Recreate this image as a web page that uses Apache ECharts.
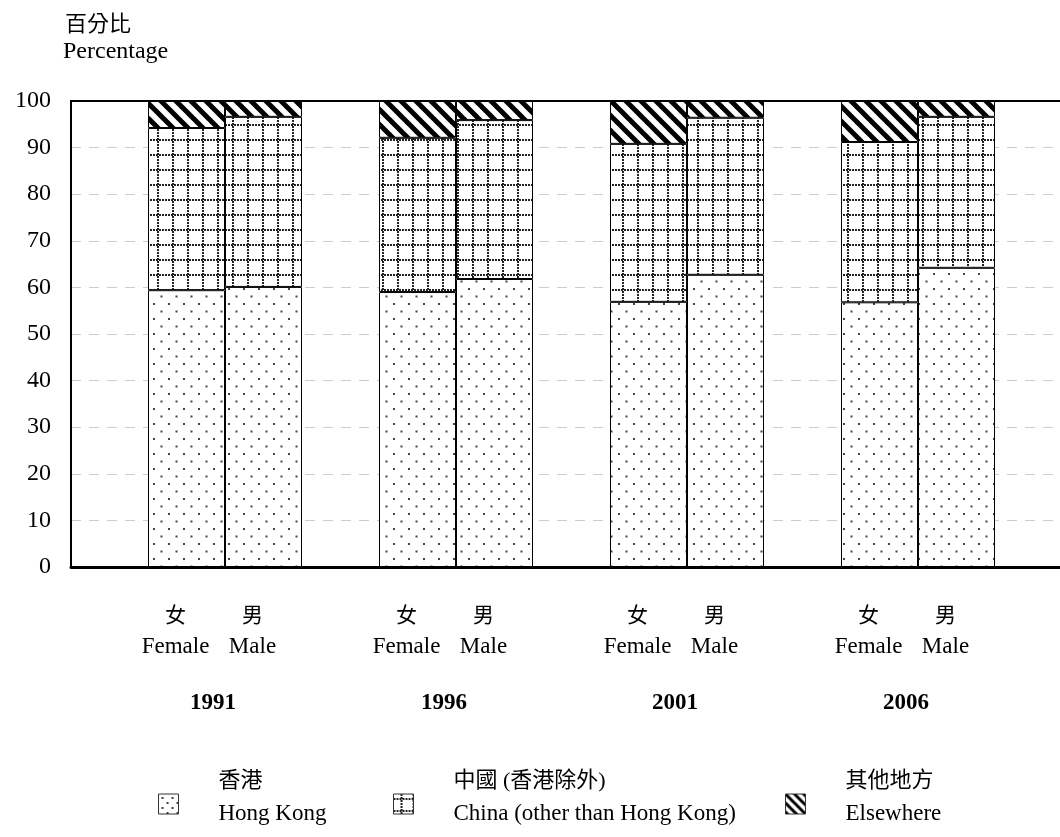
<!DOCTYPE html>
<html>
<head>
<meta charset="utf-8">
<script src="https://cdn.jsdelivr.net/npm/echarts@6/dist/echarts.min.js"></script>
<style>
  html, body { margin: 0; padding: 0; background: #fff; }
  #main { width: 1060px; height: 837px; }
</style>
</head>
<body>
<div id="main"></div>
<script>
// data (percent)
const years = ['1991', '1996', '2001', '2006']
const sexZh = ['女', '男']
const sexEn = ['Female', 'Male']
const hongKongF = [59.4, 59.0, 56.9, 56.8]
const hongKongM = [60.1, 61.8, 62.7, 64.2]
const chinaF = [34.8, 33.1, 33.9, 34.4]
const chinaM = [36.5, 34.1, 33.7, 32.4]
const elseF = [5.8, 7.9, 9.2, 8.8]
const elseM = [3.4, 4.1, 3.6, 3.4]
const seriesNames = ['香港\nHong Kong', '中國 (香港除外)\nChina (other than Hong Kong)', '其他地方\nElsewhere']

const SERIF = "'Liberation Serif', 'Noto Sans CJK TC'"
const CJK = "'Noto Sans CJK TC', 'Liberation Serif'"

// pattern tiles
function tile(size, draw) {
    const c = document.createElement('canvas')
    c.width = size
    c.height = size
    const ctx = c.getContext('2d')
    ctx.fillStyle = '#fff'
    ctx.fillRect(0, 0, size, size)
    draw(ctx, size)
    return { image: c, repeat: 'repeat' }
}
function dots(ctx, s) {
    ctx.fillStyle = '#444'
    ctx.fillRect(3, 3, 2, 2)
    ctx.fillRect(3 + s / 2, 3 + s / 2, 2, 2)
}
function gridDots(ctx, s) {
    ctx.fillStyle = '#222'
    for (let i = 0; i < s; i += 3) {
        ctx.fillRect(i, 4, 2, 2)
        ctx.fillRect(7, i, 2, 2)
    }
}
function stripes(ctx, s) {
    ctx.strokeStyle = '#000'
    ctx.lineWidth = s / 3
    for (const k of [-s, 0, s]) {
        ctx.beginPath()
        ctx.moveTo(k - 2, -2)
        ctx.lineTo(k + s + 2, s + 2)
        ctx.stroke()
    }
}
const fills = [tile(15, dots), tile(15, gridDots), tile(15, stripes)]
const legendFills = [tile(10, dots), tile(12, gridDots), tile(9, stripes)]

// 13 slots: gap, F, M, gap, F, M, ... gap
const categories = []
const labels = []
const slotOf = []   // [year][sex] -> slot index
years.forEach(function (y, i) {
    categories.push('gap' + i)
    labels.push('')
    slotOf.push([])
    sexEn.forEach(function (s, j) {
        slotOf[i].push(categories.length)
        categories.push(y + s)
        labels.push('{zh|' + sexZh[j] + '}\n{en|' + sexEn[j] + '}')
    })
})
categories.push('gapEnd')
labels.push('')

function spread(f, m) {
    const out = categories.map(function () { return '-' })
    years.forEach(function (y, i) {
        out[slotOf[i][0]] = f[i]
        out[slotOf[i][1]] = m[i]
    })
    return out
}

const values = [spread(hongKongF, hongKongM), spread(chinaF, chinaM), spread(elseF, elseM)]
const seriesData = values.map(function (v, i) {
    return {
        type: 'bar',
        name: seriesNames[i],
        stack: 'all',
        barCategoryGap: '0%',
        data: v,
        itemStyle: { color: fills[i], borderColor: '#000', borderWidth: 1 },
        emphasis: { disabled: true }
    }
})

const legendLeft = [158, 393, 785]
const legends = seriesNames.map(function (n, i) {
    return {
        left: legendLeft[i],
        top: 770,
        padding: 0,
        data: [{ name: n, itemStyle: { color: legendFills[i], borderColor: '#333', borderWidth: 1 } }],
        itemWidth: 20,
        itemHeight: 20,
        icon: 'rect',
        selectedMode: false,
        formatter: function (name) {
            const p = name.split('\n')
            return '{zh|' + p[0] + '}\n{en|' + p[1] + '}'
        },
        textStyle: {
            padding: [0, 0, 10, 35],
            rich: {
                zh: { fontFamily: SERIF, fontSize: 22, lineHeight: 30, color: '#000' },
                en: { fontFamily: SERIF, fontSize: 23, lineHeight: 36, color: '#000' }
            }
        }
    }
})

const cs = echarts.init(document.getElementById('main'))
const option = {
    animation: false,
    backgroundColor: '#fff',
    grid: {
        left: 71, top: 101, width: 1001, height: 466,
        outerBoundsMode: 'none',
        show: true, borderColor: '#000', borderWidth: 2
    },
    legend: legends,
    xAxis: {
        type: 'category',
        data: categories,
        axisLine: { show: true, lineStyle: { color: '#000', width: 3 } },
        axisTick: { show: false },
        axisLabel: {
            interval: 0,
            margin: 32,
            padding: [0, 22, 0, 0],
            formatter: function (v, idx) { return labels[idx] },
            rich: {
                zh: { fontFamily: CJK, fontSize: 21, lineHeight: 31, color: '#000' },
                en: { fontFamily: SERIF, fontSize: 23, lineHeight: 33, color: '#000' }
            }
        }
    },
    yAxis: {
        type: 'value',
        min: 0,
        max: 100,
        interval: 10,
        axisLine: { show: true, lineStyle: { color: '#000', width: 2 } },
        axisTick: { show: false },
        axisLabel: { fontFamily: SERIF, fontSize: 24, color: '#000', margin: 20 },
        splitLine: {
            show: true, showMinLine: false, showMaxLine: false,
            lineStyle: { color: '#ccc', type: [10, 8], width: 1 }
        }
    },
    series: seriesData
}
cs.setOption(option)

// titles and year labels
const graphics = [
    { type: 'text', left: 65, top: 12, style: { text: '百分比', fontFamily: CJK, fontSize: 22, fill: '#000' } },
    { type: 'text', left: 63, top: 40, style: { text: 'Percentage', fontFamily: SERIF, fontSize: 24, fill: '#000' } }
]
years.forEach(function (y, i) {
    const xF = cs.convertToPixel({ xAxisIndex: 0 }, slotOf[i][0])
    const xM = cs.convertToPixel({ xAxisIndex: 0 }, slotOf[i][1])
    graphics.push({
        type: 'text',
        x: (xF + xM) / 2 - 12,
        y: 703,
        style: {
            text: y, fontFamily: SERIF, fontSize: 23, fontWeight: 'bold', fill: '#000',
            align: 'center', verticalAlign: 'middle'
        }
    })
})
cs.setOption({ graphic: graphics })
</script>
</body>
</html>
